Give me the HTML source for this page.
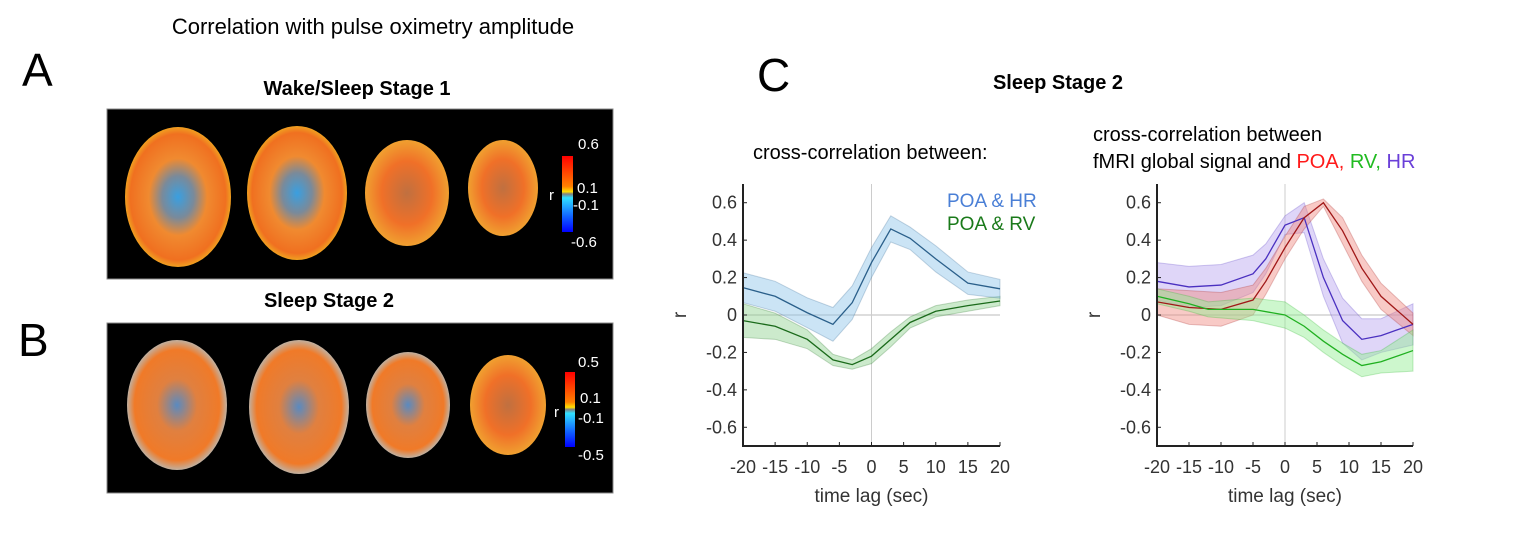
<!DOCTYPE html>
<html><head><meta charset="utf-8"><style>
body{margin:0;background:#fff;width:1529px;height:535px;overflow:hidden}
svg{display:block;font-family:"Liberation Sans",sans-serif}
</style></head><body>
<svg id="fig" width="1529" height="535" viewBox="0 0 1529 535">
<defs>
<radialGradient id="brainA" cx="50%" cy="50%" r="50%">
<stop offset="0" stop-color="#3a9fe0"/><stop offset="0.3" stop-color="#7a8a9a"/><stop offset="0.55" stop-color="#f08a30"/><stop offset="0.9" stop-color="#f07020"/><stop offset="1" stop-color="#f0a020"/></radialGradient>
<radialGradient id="brainB" cx="50%" cy="50%" r="50%">
<stop offset="0" stop-color="#5a8ac0"/><stop offset="0.4" stop-color="#e08040"/><stop offset="0.85" stop-color="#f07a28"/><stop offset="1" stop-color="#c0b0a0"/></radialGradient>
<radialGradient id="brainC" cx="50%" cy="50%" r="50%">
<stop offset="0" stop-color="#c07040"/><stop offset="0.6" stop-color="#f07028"/><stop offset="1" stop-color="#f0a030"/></radialGradient>
<linearGradient id="cbar" x1="0" y1="0" x2="0" y2="1">
<stop offset="0" stop-color="#ff0000"/><stop offset="0.4" stop-color="#ff8000"/><stop offset="0.47" stop-color="#ffe000"/><stop offset="0.5" stop-color="#808080"/><stop offset="0.55" stop-color="#30e0ff"/><stop offset="0.8" stop-color="#1060ff"/><stop offset="1" stop-color="#0000ff"/></linearGradient>
</defs>
<text x="373" y="34" font-size="22" text-anchor="middle">Correlation with pulse oximetry amplitude</text>
<text x="22" y="86" font-size="46">A</text>
<text x="357" y="95" font-size="20" font-weight="bold" text-anchor="middle">Wake/Sleep Stage 1</text>
<rect x="107" y="109" width="506" height="170" fill="#000" stroke="#888"/>
<g>
<ellipse cx="178" cy="197" rx="53" ry="70" fill="url(#brainA)"/>
<ellipse cx="297" cy="193" rx="50" ry="67" fill="url(#brainA)"/>
<ellipse cx="407" cy="193" rx="42" ry="53" fill="url(#brainC)"/>
<ellipse cx="503" cy="188" rx="35" ry="48" fill="url(#brainC)"/>
</g>
<rect x="562" y="156" width="11" height="76" fill="url(#cbar)"/>
<g font-size="15" fill="#fff">
<text x="578" y="149">0.6</text><text x="577" y="193">0.1</text><text x="573" y="210">-0.1</text><text x="571" y="247">-0.6</text><text x="549" y="200">r</text></g>
<text x="18" y="356" font-size="46">B</text>
<text x="329" y="307" font-size="20" font-weight="bold" text-anchor="middle">Sleep Stage 2</text>
<rect x="107" y="323" width="506" height="170" fill="#000" stroke="#888"/>
<g>
<ellipse cx="177" cy="405" rx="50" ry="65" fill="url(#brainB)"/>
<ellipse cx="299" cy="407" rx="50" ry="67" fill="url(#brainB)"/>
<ellipse cx="408" cy="405" rx="42" ry="53" fill="url(#brainB)"/>
<ellipse cx="508" cy="405" rx="38" ry="50" fill="url(#brainC)"/>
</g>
<rect x="565" y="372" width="10" height="75" fill="url(#cbar)"/>
<g font-size="15" fill="#fff">
<text x="578" y="367">0.5</text><text x="580" y="403">0.1</text><text x="578" y="423">-0.1</text><text x="578" y="460">-0.5</text><text x="554" y="417">r</text></g>
<text x="757" y="91" font-size="46">C</text>
<text x="1058" y="89" font-size="20" font-weight="bold" text-anchor="middle">Sleep Stage 2</text>
<text x="753" y="159" font-size="20">cross-correlation between:</text>
<text x="1093" y="141" font-size="20">cross-correlation between</text>
<text x="1093" y="168" font-size="20">fMRI global signal and <tspan fill="#ff1a1a">POA,</tspan> <tspan fill="#22bb22">RV,</tspan> <tspan fill="#6a3fd8">HR</tspan></text>
<text x="947" y="207" font-size="19" fill="#4a7fd6">POA &amp; HR</text>
<text x="947" y="230" font-size="19" fill="#1a7a1a">POA &amp; RV</text>
<g id="c1"></g><g id="c2"></g>
</svg>
<script>
const xTicks=[-20,-15,-10,-5,0,5,10,15,20];
const yTicks=[0.6,0.4,0.2,0,-0.2,-0.4,-0.6];
// left chart
const lagsHR1=[-20,-15,-10,-6,-3,0,3,6,10,15,20];
const hr1=[0.146,0.10,0.012,-0.05,0.066,0.28,0.46,0.41,0.30,0.17,0.14];
const hr1Err=[0.08,0.08,0.08,0.09,0.09,0.08,0.07,0.06,0.07,0.06,0.05];
const lagsRV1=[-20,-15,-10,-6,-3,0,3,6,10,15,20];
const rv1=[-0.03,-0.06,-0.13,-0.24,-0.265,-0.22,-0.13,-0.04,0.02,0.05,0.075];
const rv1Err=[0.09,0.07,0.05,0.03,0.025,0.04,0.04,0.03,0.03,0.03,0.025];
// right chart
const lagsPOA2=[-20,-15,-10,-5,-3,0,3,6,9,12,15,20];
const poa2=[0.07,0.04,0.03,0.08,0.18,0.36,0.52,0.60,0.45,0.25,0.10,-0.05];
const poa2Err=[0.07,0.09,0.09,0.08,0.07,0.06,0.06,0.02,0.07,0.07,0.07,0.06];
const lagsHR2=[-20,-15,-10,-5,-3,0,3,6,9,12,15,20];
const hr2=[0.18,0.15,0.16,0.22,0.30,0.48,0.52,0.20,-0.03,-0.13,-0.11,-0.05];
const hr2Err=[0.10,0.11,0.11,0.10,0.08,0.05,0.08,0.10,0.12,0.11,0.09,0.11];
const lagsRV2=[-20,-15,-12,-5,0,3,6,9,12,15,20];
const rv2=[0.10,0.06,0.03,0.03,0.0,-0.06,-0.14,-0.21,-0.27,-0.25,-0.19];
const rv2Err=[0.04,0.04,0.04,0.06,0.07,0.06,0.06,0.06,0.06,0.06,0.11];
const NS="http://www.w3.org/2000/svg";
function mk(tag,attrs,parent){const e=document.createElementNS(NS,tag);for(const k in attrs)e.setAttribute(k,attrs[k]);parent.appendChild(e);return e;}
function chart(gid,x0,x1,name,series){
  const g=document.getElementById(gid);
  const y0=184,y1=446;
  const X=v=>x0+(v+20)/40*(x1-x0);
  const Y=v=>y0+(0.7-v)/1.4*(y1-y0);
  const zl=mk('line',{x1:X(-20),x2:X(20),y1:Y(0),y2:Y(0),stroke:'#bbb','stroke-width':1},g);
  
  
  const vl=mk('line',{x1:X(0),x2:X(0),y1:y0,y2:y1,stroke:'#ccc','stroke-width':1},g);
  
  
  series.forEach(s=>{
    const up=s.x.map((v,i)=>X(v)+','+Y(s.y[i]+s.e[i]));
    const dn=s.x.map((v,i)=>X(v)+','+Y(s.y[i]-s.e[i])).reverse();
    const b=mk('polygon',{points:up.concat(dn).join(' '),fill:s.fill,'fill-opacity':0.45,stroke:s.line,'stroke-opacity':0.25},g);
    
    
  });
  series.forEach(s=>{
    const l=mk('polyline',{points:s.x.map((v,i)=>X(v)+','+Y(s.y[i])).join(' '),fill:'none',stroke:s.line,'stroke-width':1.3},g);
    
    
  });
  const ax=mk('path',{d:`M${x0},${y0} V${y1} H${x1}`,fill:'none',stroke:'#222','stroke-width':2},g);
  
  
  xTicks.forEach(t=>{
    mk('line',{x1:X(t),x2:X(t),y1:y1,y2:y1-4,stroke:'#222'},g);
    const tx=mk('text',{x:X(t),y:y1+27,'font-size':18,'text-anchor':'middle',fill:'#333'},g);
    tx.textContent=t;
    
    
  });
  yTicks.forEach(t=>{
    mk('line',{x1:x0,x2:x0+4,y1:Y(t),y2:Y(t),stroke:'#222'},g);
    const tx=mk('text',{x:x0-6,y:Y(t)+6,'font-size':18,'text-anchor':'end',fill:'#333'},g);
    tx.textContent=(t===0?'0':t.toFixed(1));
    
    
  });
  const xt=mk('text',{x:(x0+x1)/2,y:502,'font-size':19,'text-anchor':'middle',fill:'#333'},g);
  xt.textContent='time lag (sec)';
  
  
  const yt=mk('text',{x:x0-57,y:Y(0),'font-size':19,'text-anchor':'middle',fill:'#333',transform:`rotate(-90 ${x0-57} ${Y(0)})`},g);
  yt.textContent='r';
  
  
}
chart('c1',743,1000,'left-chart',[
  {n:'poa-rv',x:lagsRV1,y:rv1,e:rv1Err,fill:'#8fd08f',line:'#1a6a1a'},
  {n:'poa-hr',x:lagsHR1,y:hr1,e:hr1Err,fill:'#8cc4e8',line:'#2a5f8a'}]);
chart('c2',1157,1413,'right-chart',[
  {n:'hr',x:lagsHR2,y:hr2,e:hr2Err,fill:'#b8a4f0',line:'#4a30c0'},
  {n:'poa',x:lagsPOA2,y:poa2,e:poa2Err,fill:'#f08a80',line:'#a01818'},
  {n:'rv',x:lagsRV2,y:rv2,e:rv2Err,fill:'#90ee90',line:'#20b020'}]);
</script>
</body></html>
